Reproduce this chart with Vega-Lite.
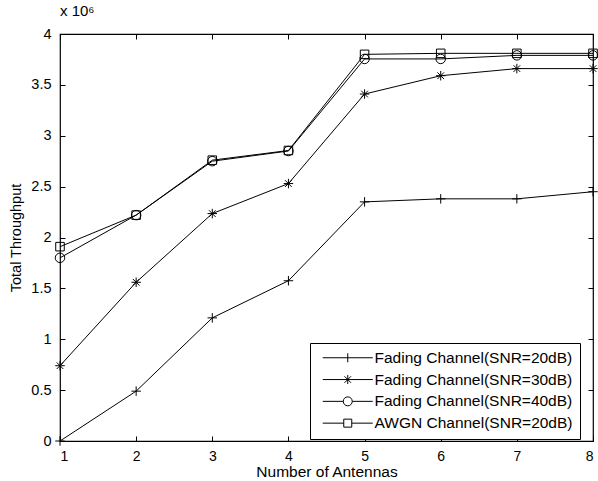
{
  "$schema": "https://vega.github.io/schema/vega-lite/v6.json",
  "width": 533,
  "height": 407,
  "autosize": "none",
  "padding": {"left": 60, "top": 34, "right": 5, "bottom": 40},
  "background": "white",
  "title": {"text": "x 10⁶", "anchor": "start", "frame": "group", "fontSize": 15, "font": "Liberation Sans", "fontWeight": "normal", "color": "black", "offset": 7},
  "config": {
    "view": {"stroke": "black", "strokeWidth": 1.2},
    "font": "Liberation Sans",
    "axis": {"grid": false, "domainColor": "black", "tickColor": "black", "labelColor": "black", "titleColor": "black", "labelFont": "Liberation Sans", "titleFont": "Liberation Sans", "titleFontWeight": "normal"}
  },
  "data": {
    "values": [
      {"n": 1, "series": "Fading Channel(SNR=20dB)", "v": 0},
      {"n": 2, "series": "Fading Channel(SNR=20dB)", "v": 490000},
      {"n": 3, "series": "Fading Channel(SNR=20dB)", "v": 1210000},
      {"n": 4, "series": "Fading Channel(SNR=20dB)", "v": 1575000},
      {"n": 5, "series": "Fading Channel(SNR=20dB)", "v": 2350000},
      {"n": 6, "series": "Fading Channel(SNR=20dB)", "v": 2380000},
      {"n": 7, "series": "Fading Channel(SNR=20dB)", "v": 2380000},
      {"n": 8, "series": "Fading Channel(SNR=20dB)", "v": 2450000},
      {"n": 1, "series": "Fading Channel(SNR=30dB)", "v": 740000},
      {"n": 2, "series": "Fading Channel(SNR=30dB)", "v": 1560000},
      {"n": 3, "series": "Fading Channel(SNR=30dB)", "v": 2235000},
      {"n": 4, "series": "Fading Channel(SNR=30dB)", "v": 2530000},
      {"n": 5, "series": "Fading Channel(SNR=30dB)", "v": 3410000},
      {"n": 6, "series": "Fading Channel(SNR=30dB)", "v": 3590000},
      {"n": 7, "series": "Fading Channel(SNR=30dB)", "v": 3660000},
      {"n": 8, "series": "Fading Channel(SNR=30dB)", "v": 3660000},
      {"n": 1, "series": "Fading Channel(SNR=40dB)", "v": 1800000},
      {"n": 2, "series": "Fading Channel(SNR=40dB)", "v": 2220000},
      {"n": 3, "series": "Fading Channel(SNR=40dB)", "v": 2750000},
      {"n": 4, "series": "Fading Channel(SNR=40dB)", "v": 2850000},
      {"n": 5, "series": "Fading Channel(SNR=40dB)", "v": 3755000},
      {"n": 6, "series": "Fading Channel(SNR=40dB)", "v": 3755000},
      {"n": 7, "series": "Fading Channel(SNR=40dB)", "v": 3790000},
      {"n": 8, "series": "Fading Channel(SNR=40dB)", "v": 3790000},
      {"n": 1, "series": "AWGN Channel(SNR=20dB)", "v": 1910000},
      {"n": 2, "series": "AWGN Channel(SNR=20dB)", "v": 2220000},
      {"n": 3, "series": "AWGN Channel(SNR=20dB)", "v": 2760000},
      {"n": 4, "series": "AWGN Channel(SNR=20dB)", "v": 2855000},
      {"n": 5, "series": "AWGN Channel(SNR=20dB)", "v": 3800000},
      {"n": 6, "series": "AWGN Channel(SNR=20dB)", "v": 3810000},
      {"n": 7, "series": "AWGN Channel(SNR=20dB)", "v": 3810000},
      {"n": 8, "series": "AWGN Channel(SNR=20dB)", "v": 3810000}
    ]
  },
  "layer": [
    {
      "mark": {"type": "line", "color": "black", "strokeWidth": 1},
      "encoding": {
        "x": {"field": "n", "type": "quantitative", "scale": {"domain": [1, 8], "nice": false, "zero": false},
              "axis": {"orient": "bottom", "values": [1, 2, 3, 4, 5, 6, 7, 8], "format": "d", "title": "Number of Antennas", "titleFontSize": 15.5, "labelFontSize": 14, "tickSize": 5, "offset": -5, "domain": false, "labelPadding": 8, "titlePadding": 1}},
        "y": {"field": "v", "type": "quantitative", "scale": {"domain": [0, 4000000], "nice": false},
              "axis": {"orient": "left", "values": [0, 500000, 1000000, 1500000, 2000000, 2500000, 3000000, 3500000, 4000000], "labelExpr": "format(datum.value/1000000, '~g')", "title": "Total Throughput", "titleFontSize": 14.5, "labelFontSize": 14.5, "tickSize": 5, "offset": -5, "domain": false, "labelPadding": 9, "titlePadding": 7}},
        "detail": {"field": "series", "type": "nominal"}
      }
    },
    {
      "mark": {"type": "point", "filled": false, "stroke": "black", "strokeWidth": 1, "size": 90, "opacity": 1},
      "encoding": {
        "x": {"field": "n", "type": "quantitative", "axis": null},
        "y": {"field": "v", "type": "quantitative", "axis": null},
        "shape": {"field": "series", "type": "nominal", "legend": null,
                  "scale": {"domain": ["Fading Channel(SNR=20dB)", "Fading Channel(SNR=30dB)", "Fading Channel(SNR=40dB)", "AWGN Channel(SNR=20dB)"],
                            "range": ["M-1,0L1,0M0,-1L0,1", "M-1,0L1,0M0,-1L0,1M-0.7,-0.7L0.7,0.7M-0.7,0.7L0.7,-0.7", "circle", "M-0.9,-0.9L0.9,-0.9L0.9,0.9L-0.9,0.9Z"]}}
      }
    },
    {
      "mark": {"type": "point", "filled": false, "stroke": "black", "strokeWidth": 1, "size": 90, "opacity": 0},
      "encoding": {
        "x": {"field": "n", "type": "quantitative", "axis": {"orient": "top", "values": [1, 2, 3, 4, 5, 6, 7, 8], "labels": false, "title": null, "tickSize": 5, "offset": -5, "domain": false}},
        "y": {"field": "v", "type": "quantitative", "axis": {"orient": "right", "values": [0, 500000, 1000000, 1500000, 2000000, 2500000, 3000000, 3500000, 4000000], "labels": false, "title": null, "tickSize": 5, "offset": -5, "domain": false}},
        "shape": {"field": "series", "type": "nominal",
                  "scale": {"domain": ["Fading Channel(SNR=20dB)", "Fading Channel(SNR=30dB)", "Fading Channel(SNR=40dB)", "AWGN Channel(SNR=20dB)"],
                            "range": ["M-5,0L5,0M0,-0.9L0,0.9", "M-5,0L5,0M0,-0.9L0,0.9M-0.65,-0.65L0.65,0.65M-0.65,0.65L0.65,-0.65", "M-5,0L-0.9,0M0.9,0L5,0M0.9,0A0.9,0.9,0,1,1,-0.9,0A0.9,0.9,0,1,1,0.9,0", "M-5,0L-0.8,0M0.8,0L5,0M-0.8,-0.8L0.8,-0.8L0.8,0.8L-0.8,0.8Z"]},
                  "legend": {"orient": "none", "legendX": 250, "legendY": 309, "title": null, "strokeColor": "black", "fillColor": "white", "padding": 7, "symbolSize": 100, "symbolOffset": 23, "labelOffset": 19, "labelLimit": 0, "labelFontSize": 15.5, "labelFont": "Liberation Sans", "labelColor": "black", "rowPadding": 4.8, "symbolStrokeColor": "black", "symbolStrokeWidth": 1, "symbolOpacity": 1,
                             "encode": {"symbols": {"update": {"opacity": {"value": 1}, "stroke": {"value": "black"}, "fill": {"value": "transparent"}}}}}}
      }
    }
  ],
  "resolve": {"scale": {"shape": "independent"}, "axis": {"x": "independent", "y": "independent"}}
}
